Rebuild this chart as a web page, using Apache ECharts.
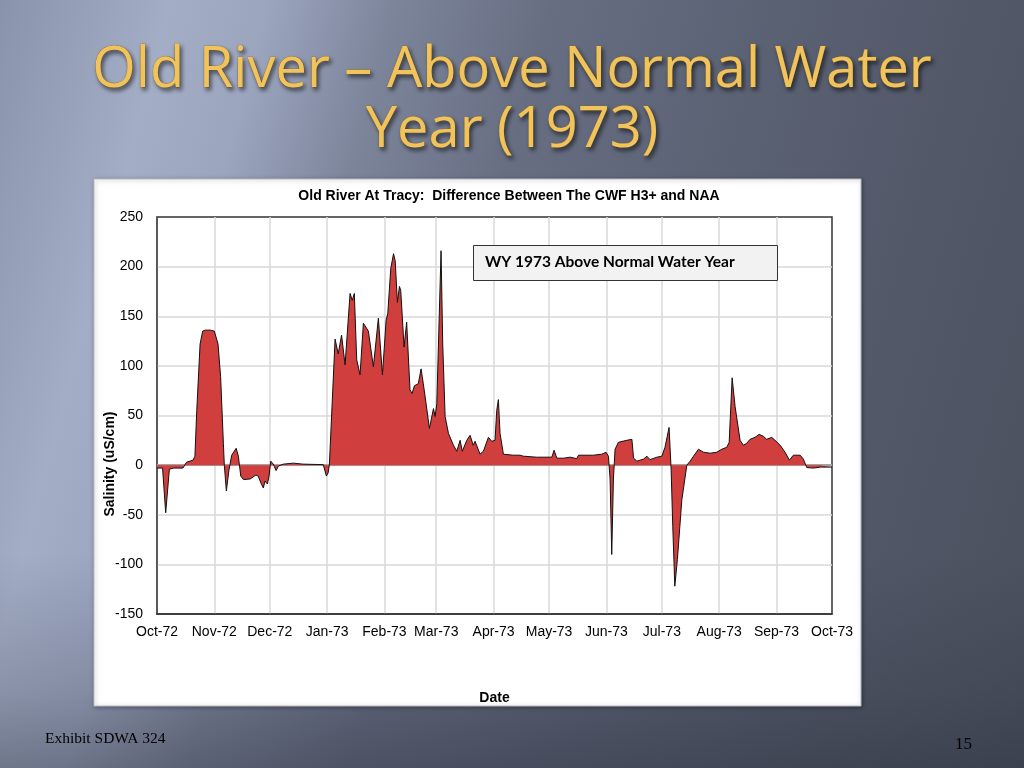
<!DOCTYPE html>
<html><head><meta charset="utf-8">
<script src="https://cdn.jsdelivr.net/npm/echarts@6/dist/echarts.min.js"></script>
<style>
html,body{margin:0;padding:0;width:1024px;height:768px;overflow:hidden;}
body{background:
  linear-gradient(to top, rgba(38,42,56,0.40) 0%, rgba(38,42,56,0.20) 10%, rgba(38,42,56,0) 28%),
  linear-gradient(105deg,#8a93ac 0%,#a3adc5 14%,#9ba5be 22%,#7d859b 32%,#676e82 45%,#5b6274 62%,#525868 80%,#4b505e 100%);}
#chart{width:1024px;height:768px;}
</style></head><body><div id="chart"></div>
<script>
// ---- data (day offset from 1 Oct 1972, salinity difference uS/cm) ----
const dayOffsets = [0,3,4.7,6.7,9,14,15,16,17,19.5,20.5,21.5,23.3,24.7,26,29,31,32,33,34.4,35.9,36.4,37.5,38.9,40.4,42.8,44,45.3,46.7,50.3,53.5,54.7,56.2,57.5,58.4,59.7,60.6,61.5,62.9,64.4,65.6,68.3,73.7,79,89.9,90.8,91.6,92.5,93.2,96.3,98,99.8,101.7,104.4,105.6,106.7,108,109.8,111.6,114.3,117,119.7,121.9,123.9,124.8,126.4,127.9,128.8,130,131.1,131.8,133.6,135,136.8,137.9,139.2,141.3,142.8,144,145.5,147.3,148,149.5,150.4,151.3,153.6,154.5,155.8,157.6,160.3,162.1,163.9,165.1,167.5,169.3,171,172,174.7,176.5,179.2,181,182.8,183.7,184.6,185.5,187.3,192.7,196.3,198.1,205.3,213.5,214.7,216.2,219.8,223.4,227,227.9,236,240.5,242.8,244.1,245,245.9,246.8,247.7,249.5,254,256.8,257.7,259.5,263,264.9,266.6,270.3,273,274.7,276.9,278,278.9,280,281.4,283.8,286.5,288.3,290.1,292.8,295.5,299.1,302.7,305.4,308.1,309.4,311,312.6,315.3,317.1,318.9,320.7,323.4,325.6,327.9,329.7,332.4,334.2,337,339.6,342,344.1,347.8,349.5,351.4,355,358.6,365];
const salinityDiff = [-3,-3,-48,-4,-3,-3,-1,3,5,5,9,55,122,135,136,136,135,133,122,89,22,0,-26,-5,10,17,9,-11,-14.5,-14,-10,-11,-18,-23,-16,-19,-11,4,1,-5.5,-1,1,2,1,0.5,-1,-11,-8,0,127,112,131,101,173,166,173,106,91,143,135,99,148,91,146,153,198,213,206,164,180,176,119,144,76,72,80,82,97,82,62,37,36,57,49,62,216,122,49,32,20,14,25,14,25,30,20,24,11,14,28,24,25,55,66,32,11,10,10,9,8,8,15,7,7,8,6.5,10,10,11,13,9,-14,-90,-14,16,23,25,26,7,4,6,9,5.5,8,9,18,38,-4,-62,-122,-95,-35,0,4,9,16,13,12,13,16,18,23,88,59,25,20,22,26,28,31,29,26,28,25,20,13,5,10,10,6,-2.5,-3,-2,-2];
const monthStartDays = [0,31,61,92,123,151,182,212,243,273,304,335,365];
const monthLabels = ['Oct-72','Nov-72','Dec-72','Jan-73','Feb-73','Mar-73','Apr-73','May-73','Jun-73','Jul-73','Aug-73','Sep-73','Oct-73'];
const yTicks = {min:-150, max:250, step:50};

const chart = echarts.init(document.getElementById('chart'), null, {renderer:'canvas'});
const seriesData = dayOffsets.map((d,i)=>[d, salinityDiff[i]]);
const FONT = 'Liberation Sans, Arial, sans-serif';
const axisFont = {fontFamily:FONT, fontSize:14, color:'#000'};

chart.setOption({
  backgroundColor:'transparent',
  animation:false,
  title:[{
    text:'Old River – Above Normal Water\nYear (1973)',
    left:'center', top:36,
    textStyle:{fontFamily:'Open Sans', fontSize:56, fontWeight:'normal', lineHeight:60,
      color:'#f0c35c', textBorderColor:'#9a7420', textBorderWidth:0.6,
      textShadowColor:'rgba(0,0,0,0.55)', textShadowBlur:4, textShadowOffsetX:2, textShadowOffsetY:3}
  },{
    text:'Old River At Tracy:  Difference Between The CWF H3+ and NAA',
    left:504, top:184, textAlign:'center',
    textStyle:{fontFamily:FONT, fontSize:14, fontWeight:'bold', color:'#000'}
  }],
  graphic:[
    {type:'rect', z:-10, shape:{x:94,y:179,width:767,height:527},
     style:{fill:'#ffffff', stroke:'#b8bcc4', lineWidth:1, shadowBlur:4, shadowColor:'rgba(0,0,0,0.35)', shadowOffsetX:1, shadowOffsetY:1}},
    {type:'rect', z:50, shape:{x:473.5,y:245.5,width:304,height:35}, style:{fill:'#f2f2f2', stroke:'#333', lineWidth:1}},
    {type:'text', z:51, x:485, y:262, style:{text:'WY 1973 Above Normal Water Year', fontFamily:'Lato', fontWeight:'bold', fontSize:15.5, fill:'#000', verticalAlign:'middle'}},
    {type:'text', x:110, y:464, rotation:Math.PI/2, style:{text:'Salinity (uS/cm)', fontFamily:FONT, fontWeight:'bold', fontSize:14, fill:'#000', align:'center', verticalAlign:'middle'}},
    {type:'text', x:45, y:739, style:{text:'Exhibit SDWA 324', fontFamily:'Liberation Serif', fontSize:15.5, fill:'#000', verticalAlign:'middle'}},
    {type:'text', x:955, y:745, style:{text:'15', fontFamily:'Liberation Serif', fontSize:17, fill:'#000', verticalAlign:'middle'}}
  ],
  grid:{left:157, top:217, width:675, height:397, show:true, borderColor:'#333', borderWidth:1.5, backgroundColor:'transparent'},
  xAxis:{
    type:'value', min:0, max:365,
    name:'Date', nameLocation:'middle', nameGap:77,
    nameTextStyle:{fontFamily:FONT, fontSize:14, fontWeight:'bold', color:'#000'},
    axisLine:{show:true, onZero:false, lineStyle:{color:'#333', width:1.5}},
    axisTick:{show:false, customValues:monthStartDays},
    axisLabel:Object.assign({margin:11, customValues:monthStartDays, hideOverlap:false,
      formatter:(v)=>{const i=monthStartDays.indexOf(v); return i>=0?monthLabels[i]:'';}}, axisFont),
    splitLine:{show:true, showMinLine:false, showMaxLine:false, lineStyle:{color:'#d9d9d9', width:1.5}}
  },
  yAxis:{
    type:'value', min:yTicks.min, max:yTicks.max, interval:yTicks.step,
    axisLine:{show:true, lineStyle:{color:'#555', width:1.5}},
    axisTick:{show:false},
    axisLabel:Object.assign({margin:14}, axisFont),
    splitLine:{show:true, showMinLine:false, showMaxLine:false, lineStyle:{color:'#d9d9d9', width:1.5}}
  },
  series:[{
    type:'line', data:seriesData, symbol:'none', smooth:false, z:2,
    lineStyle:{color:'#111', width:1},
    areaStyle:{color:'#d03e3e', opacity:1},
    markLine:{silent:true, z:1, symbol:'none', label:{show:false},
      lineStyle:{color:'#a3a3a3', width:2, type:'solid'}, data:[{yAxis:0}]}
  }]
});
</script></body></html>
